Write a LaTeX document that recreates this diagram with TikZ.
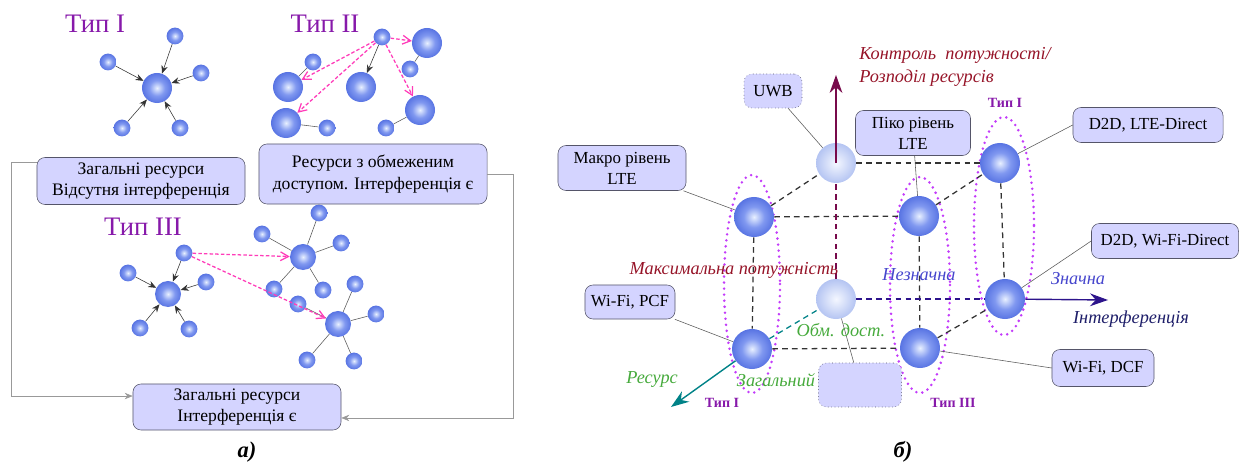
\documentclass[tikz,border=0pt]{standalone}
\usepackage{fontspec}
\setmainfont{Liberation Serif}
\usetikzlibrary{arrows.meta}
\tikzset{>={Stealth[width=1.6mm,length=2mm]}}
\definecolor{typeColor}{RGB}{135, 25, 170}
\definecolor{boxFill}{RGB}{212, 212, 255}
\definecolor{boxLine}{RGB}{85, 85, 105}
\definecolor{ringColor}{RGB}{195, 60, 250}
\definecolor{pinkArrow}{RGB}{255, 60, 185}
\definecolor{powerColor}{RGB}{150, 20, 40}
\definecolor{powerAxis}{RGB}{120, 10, 75}
\definecolor{resColor}{RGB}{70, 170, 60}
\definecolor{resAxis}{RGB}{0, 130, 135}
\definecolor{intColor}{RGB}{70, 70, 205}
\definecolor{intAxis}{RGB}{45, 20, 140}
\definecolor{intText}{RGB}{30, 30, 105}
\definecolor{ballOut}{RGB}{62, 92, 218}
\definecolor{ballMid}{RGB}{128, 152, 240}
\definecolor{ballIn}{RGB}{232, 240, 255}
\definecolor{paleOut}{RGB}{160, 180, 238}
\definecolor{paleIn}{RGB}{244, 247, 255}
\pgfdeclareradialshading{blueball}{\pgfpoint{0bp}{0bp}}{color(0bp)=(ballIn); color(13bp)=(ballMid); color(33bp)=(ballOut); color(50bp)=(ballOut)}
\pgfdeclareradialshading{paleball}{\pgfpoint{0bp}{0bp}}{color(0bp)=(paleIn); color(33bp)=(paleOut); color(50bp)=(paleOut)}

\begin{document}
\begin{tikzpicture}[
    x = 0.025cm, y = -0.025cm,
    box/.style = {draw=boxLine, fill=boxFill, rounded corners=2mm,
        align=center, inner sep=0.5mm},
    leftbox/.style = {box, font=\fontsize{12.5}{15.5}\selectfont},
    rightbox/.style = {box, font=\fontsize{12}{15}\selectfont},
    ball/.style = {circle, shading=blueball, inner sep=0pt},
    bigball/.style = {ball, minimum size=0.75cm},
    midball/.style = {ball, minimum size=0.65cm},
    smallball/.style = {ball, minimum size=0.42cm},
    cubeball/.style = {ball, minimum size=1cm},
    lightball/.style = {cubeball, shading=paleball},
    typelabel/.style = {text=typeColor, font=\fontsize{19}{22}\selectfont},
    smalltype/.style = {text=typeColor, font=\fontsize{10}{12}\selectfont\bfseries},
    axislabel/.style = {font=\fontsize{13}{16}\selectfont\itshape, inner sep=0pt},
    link/.style = {draw=black!65, thin},
    pointer/.style = {->, draw=black!80, thin},
    pinkdash/.style = {-{Straight Barb[length=2mm,width=2.2mm]}, draw=pinkArrow,
        line width=0.9pt, dash pattern=on 2.5pt off 1.5pt},
    frame/.style = {draw=black!40, thin},
    cubeedge/.style = {draw=black!80, line width=0.9pt, dash pattern=on 4pt off 3pt},
    ring/.style = {draw=ringColor, line width=2pt, line cap=round,
        dash pattern=on 0pt off 4.3pt},
    bigtip/.style = {-{Stealth[length=4.5mm,width=3.2mm]}, line width=1pt}
  ]
  \useasboundingbox (0,0) rectangle (1244,465);

  % а)
  \node[typelabel] (typeOne) at (95,24) {Тип I};
  \node[typelabel] (typeTwo) at (325,24) {Тип II};
  \node[typelabel] (typeThree) at (143,227) {Тип III};

  \node[bigball] (A0) at (157,88) {};
  \foreach \n/\x/\y in {1/108/62, 2/175/36, 3/201/73, 4/122/128, 5/180/128} {
    \node[smallball] (A\n) at (\x,\y) {};
    \draw[pointer] (A\n) -- (A0);
  }

  \node[smallball] (B0) at (382,37) {};
  \node[bigball] (B1) at (427,43) {};
  \node[smallball] (B2) at (410,69) {};
  \node[smallball] (B3) at (313,62) {};
  \node[bigball] (B4) at (288,87) {};
  \node[bigball] (B5) at (361,87) {};
  \node[bigball] (B6) at (286,123) {};
  \node[smallball] (B7) at (327,128) {};
  \node[bigball] (B8) at (420,110) {};
  \node[smallball] (B9) at (386,128) {};
  \foreach \a/\b in {B1/B2, B3/B4, B6/B7, B8/B9}
    \draw[link] (\a) -- (\b);
  \foreach \b in {B1, B4, B6, B8}
    \draw[pinkdash] (B0) -- (\b);
  \draw[pointer] (B0) -- (B5);

  \node[midball] (C0) at (168,294) {};
  \foreach \n/\x/\y in {1/184/253, 2/128/273, 3/206/282, 4/140/328, 5/189/329} {
    \node[smallball] (C\n) at (\x,\y) {};
    \draw[pointer] (C\n) -- (C0);
  }

  \node[midball] (D0) at (303,257) {};
  \foreach \n/\x/\y in {1/319/213, 2/262/234, 3/341/243, 4/274/289, 5/323/290} {
    \node[smallball] (D\n) at (\x,\y) {};
    \draw[link] (D\n) -- (D0);
  }

  \node[midball] (E0) at (338,324) {};
  \foreach \n/\x/\y in {1/355/284, 2/376/314, 3/298/304, 4/307/360, 5/354/361} {
    \node[smallball] (E\n) at (\x,\y) {};
    \draw[link] (E\n) -- (E0);
  }
  \draw[pinkdash] (C1) -- (D0);
  \draw[pinkdash] (C1) -- (E0);

  \node[leftbox, minimum width=5.2cm, minimum height=1.175cm] (noInt) at (141,181)
    {Загальні ресурси\\Відсутня інтерференція};
  \node[leftbox, minimum width=5.7cm, minimum height=1.5cm] (limInt) at (373,174)
    {Ресурси з обмеженим\\доступом. Інтерференція є};
  \node[leftbox, minimum width=5.2cm, minimum height=1.15cm] (comInt) at (237,407)
    {Загальні ресурси\\Інтерференція є};
  \draw[frame, ->] (noInt.170) -- ++(-25,0) |- (comInt.174);
  \draw[frame, ->] (limInt.east) -- ++(26,0) |- (comInt.354);

  \node[font=\fontsize{16}{18}\selectfont\bfseries\itshape] (capA) at (247,452) {а)};

  % б)
  \draw[ring] (752,284) ellipse [x radius=28, y radius=109];
  \draw[ring] (920,285) ellipse [x radius=30, y radius=108];
  \draw[ring] (1004,226) ellipse [x radius=30, y radius=109];

  \node[lightball] (tbl) at (836,163) {};
  \node[cubeball] (tbr) at (1000,163) {};
  \node[cubeball] (tfl) at (754,217) {};
  \node[cubeball] (tfr) at (919,216) {};
  \node[lightball] (bbl) at (836,299) {};
  \node[cubeball] (bbr) at (1005,299) {};
  \node[cubeball] (bfl) at (752,349) {};
  \node[cubeball] (bfr) at (920,348) {};
  \foreach \a/\b in {tbl/tbr, tfl/tfr, tfl/tbl, tfr/tbr, tfl/bfl, tfr/bfr,
      tbr/bbr, bfl/bfr, bfr/bbr}
    \draw[cubeedge] (\a) -- (\b);

  \coordinate (ctrlTip) at (836,75);
  \coordinate (intTip) at (1108,300);
  \coordinate (resTip) at (671,407);
  \draw[cubeedge, draw=powerAxis] (bbl) -- (tbl);
  \draw[bigtip, powerAxis] (tbl.center) -- (ctrlTip);
  \draw[cubeedge, draw=intAxis] (bbl) -- (bbr);
  \draw[bigtip, intAxis] (bbr) -- (intTip);
  \draw[cubeedge, draw=resAxis] (bfl) -- (bbl);
  \draw[bigtip, resAxis] (bfl) -- (resTip);

  \node[rightbox, dotted, minimum width=1.45cm, minimum height=0.85cm] (uwb) at (773,91) {UWB};
  \node[rightbox, minimum width=3.2cm, minimum height=1.125cm] (macro) at (622,168) {Макро рівень\\LTE};
  \node[rightbox, minimum width=2.875cm, minimum height=1.125cm] (piko) at (913,133) {Піко рівень\\LTE};
  \node[rightbox, minimum width=3.75cm, minimum height=0.875cm] (lteD) at (1148,125) {D2D, LTE-Direct};
  \node[rightbox, minimum width=3.675cm, minimum height=0.875cm] (wifiD) at (1165,241) {D2D, Wi-Fi-Direct};
  \node[rightbox, minimum width=2.25cm, minimum height=0.85cm] (pcf) at (630,302) {Wi-Fi, PCF};
  \node[rightbox, minimum width=2.55cm, minimum height=0.925cm] (dcf) at (1103,368) {Wi-Fi, DCF};
  \node[rightbox, dotted, minimum width=2.075cm, minimum height=1.1cm] (blank) at (860,385) {};
  \draw[link] (uwb) -- (tbl);
  \draw[link] (macro) -- (tfl);
  \draw[link] (piko) -- (tfr);
  \draw[link] (lteD.west) -- (tbr);
  \draw[link] (wifiD.west) -- (bbr);
  \draw[link] (pcf) -- (bfl);
  \draw[link] (dcf.west) -- (bfr);
  \draw[link] (blank) -- (bbl);

  \node[axislabel, text=powerColor, align=left, anchor=west] (ctrlLabel) at (859,67)
    {Контроль\ \ потужності/\\Розподіл ресурсів};
  \node[axislabel, text=powerColor] (maxLabel) at (734,270) {Максимальна потужність};
  \node[axislabel, text=intColor] (lowLabel) at (919,275) {Незначна};
  \node[axislabel, text=intColor] (highLabel) at (1078,279) {Значна};
  \node[axislabel, text=intText] (intLabel) at (1131,319) {Інтерференція};
  \node[axislabel, text=resColor] (limLabel) at (841,330) {Обм. дост.};
  \node[axislabel, text=resColor] (comLabel) at (776,380) {Загальний};
  \node[axislabel, text=resColor] (resLabel) at (652,379) {Ресурс};

  \node[smalltype] (ringTop) at (1005,103) {Тип I};
  \node[smalltype] (ringLeft) at (722,403) {Тип I};
  \node[smalltype] (ringMid) at (953,403) {Тип III};

  \node[font=\fontsize{16}{18}\selectfont\bfseries\itshape] (capB) at (903,452) {б)};
\end{tikzpicture}
\end{document}
